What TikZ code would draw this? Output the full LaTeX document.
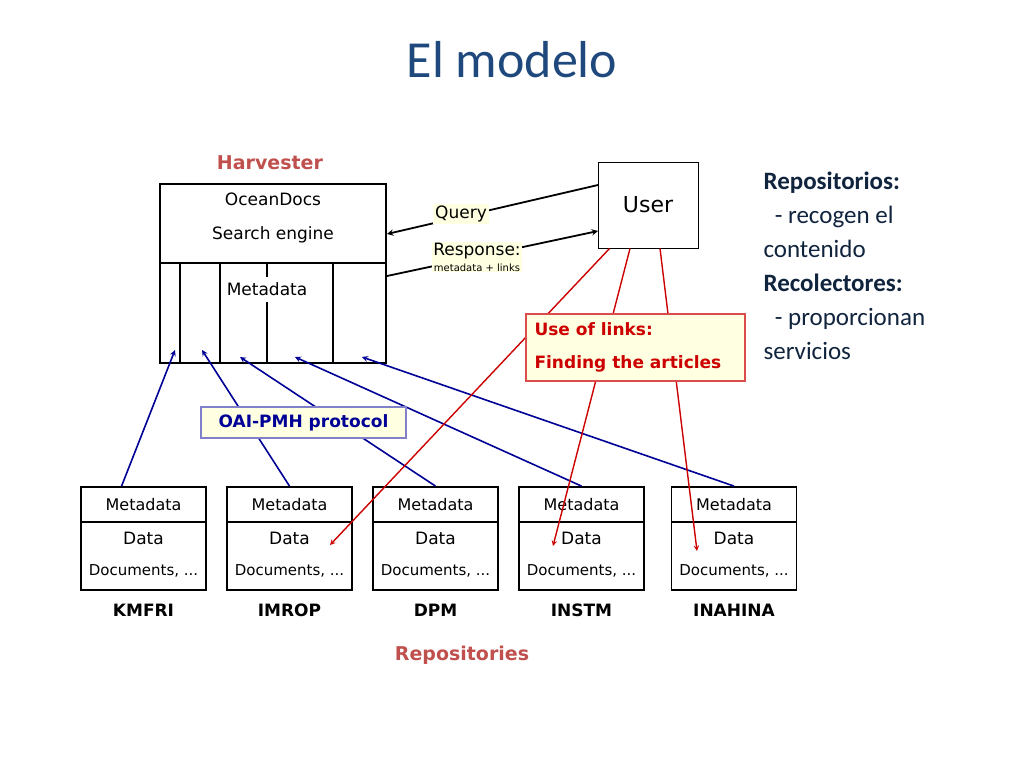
\documentclass[tikz,border=0pt]{standalone}
\usepackage{fontspec}
\setmainfont{Carlito}
\newfontfamily\dv{DejaVu Sans}
\usetikzlibrary{positioning}
\definecolor{tblue}{RGB}{31,73,125}
\definecolor{hred}{RGB}{192,80,77}
\definecolor{lred}{RGB}{204,0,0}
\definecolor{oblue}{RGB}{0,0,150}
\definecolor{lyell}{RGB}{255,255,225}
\tikzset{box/.style={draw, line width=1.8pt, minimum width=125pt, minimum height=35pt, inner sep=0pt, font=\dv\fontsize{16}{18}\selectfont}}
\begin{document}
\begin{tikzpicture}[x=1pt, y=-1pt,
    blue arrow/.style={draw=oblue, line width=1.6pt, -stealth},
    red arrow/.style={draw=lred, line width=1.4pt, -stealth},
    blk arrow/.style={line width=1.8pt, -stealth},
    lbl/.style={fill=lyell, inner sep=2pt, font=\dv\fontsize{17}{19}\selectfont},
]
\useasboundingbox (0,0) rectangle (1024,768);
\node[text=tblue, font=\fontsize{52}{60}\selectfont] (title) at (512,60) {El modelo};

% harvester
\node[text=hred, font=\dv\bfseries\fontsize{19}{21}\selectfont] (harvtitle) at (270,163) {Harvester};
\draw[line width=1.8pt] (160,184) rectangle (386,363);
\draw[line width=1.8pt] (160,263) -- (386,263);
\node[font=\dv\fontsize{17}{19}\selectfont] (ocean) at (273,199) {OceanDocs};
\node[font=\dv\fontsize{17}{19}\selectfont] (search) at (273,235) {Search engine};
\node[font=\dv\fontsize{17}{19}\selectfont] (meta) at (267,289) {Metadata};
\foreach \x in {180,220,333} \draw[line width=1.8pt] (\x,263) -- (\x,363);
\draw[line width=1.8pt] (267,263) -- (267,277);
\draw[line width=1.8pt] (267,302) -- (267,363);
\node[draw, line width=1pt, fill=white, minimum width=100pt, minimum height=86pt] (user) at (648,205) {};
\node[font=\dv\fontsize{22}{25}\selectfont] at (user) {User};

% query / response
\coordinate (userq) at (598,185);
\coordinate (harvq) at (387,234);
\coordinate (harvr) at (387,276);
\coordinate (userr) at (598,231);
\draw[blk arrow] (userq) -- (harvq);
\draw[blk arrow] (harvr) -- (userr);
\node[lbl] (query) at (461,214) {Query};
\node[lbl, align=center, inner sep=1pt] (resp) at (477,257) {Response:\\[-3pt]{\fontsize{10}{11}\selectfont metadata + links}};

% repositories
\foreach \name/\x in {kmfri/143.5, imrop/289.5, dpm/435.5, instm/581.5, inahina/734} {
  \node[box] (\name-m) at (\x,504.5) {Metadata};
  \node[box, minimum height=68pt, below=-1.8pt of \name-m] (\name-d) {};
  \node[font=\dv\fontsize{17}{19}\selectfont] at ([yshift=-17pt]\name-d.north) {Data};
  \node[font=\dv\fontsize{15}{17}\selectfont] at ([yshift=-50pt]\name-d.north) {Documents, ...};
}
\foreach \name/\lab in {kmfri/KMFRI, imrop/IMROP, dpm/DPM, instm/INSTM, inahina/INAHINA}
  \node[font=\dv\bfseries\fontsize{17}{19}\selectfont, anchor=base] (\name-l) at ([yshift=-26pt]\name-d.south) {\lab};
\node[text=hred, font=\dv\bfseries\fontsize{19}{21}\selectfont] (repos) at (462,655) {Repositories};

% OAI-PMH harvesting
\coordinate (h1) at (175,350);
\coordinate (h2) at (202,350);
\coordinate (h3) at (240,357);
\coordinate (h4) at (295,357);
\coordinate (h5) at (362,357);
\draw[blue arrow] (kmfri-m.140) -- (h1);
\draw[blue arrow] (imrop-m.north) -- (h2);
\draw[blue arrow] (dpm-m.north) -- (h3);
\draw[blue arrow] (instm-m.north) -- (h4);
\draw[blue arrow] (inahina-m.north) -- (h5);
\node[draw=oblue!50, line width=1.2pt, fill=lyell, text=oblue, font=\dv\bfseries\fontsize{17}{19}\selectfont, minimum width=205pt, minimum height=31pt] (oai) at (303.5,422.5) {OAI-PMH protocol};

% links
\coordinate (a1) at (330,545);
\coordinate (a2) at (553,546);
\coordinate (a3) at (697,551);
\draw[red arrow] (user.south west) ++(12,0) coordinate (u1) -- (a1);
\draw[red arrow] ([xshift=-18pt]user.south) coordinate (u2) -- (a2);
\draw[red arrow] ([xshift=12pt]user.south) coordinate (u3) -- (a3);
\node[draw=lred!70, line width=1.2pt, fill=lyell, minimum width=219pt, minimum height=67pt] (links) at (635.5,347.5) {};
\node[text=lred, font=\dv\bfseries\fontsize{17}{19}\selectfont, anchor=west] (l1) at (531,329) {Use of links:};
\node[text=lred, font=\dv\bfseries\fontsize{17}{19}\selectfont, anchor=west] (l2) at (531,364) {Finding the articles};

% right text
\node[anchor=north west, align=left, font=\fontsize{25}{34}\selectfont, text=tblue!50!black] (notes) at (760,168)
 {\textbf{Repositorios:}\\ \ \ - recogen el\\ contenido\\ \textbf{Recolectores:}\\ \ \ - proporcionan\\ servicios};
\end{tikzpicture}
\end{document}
